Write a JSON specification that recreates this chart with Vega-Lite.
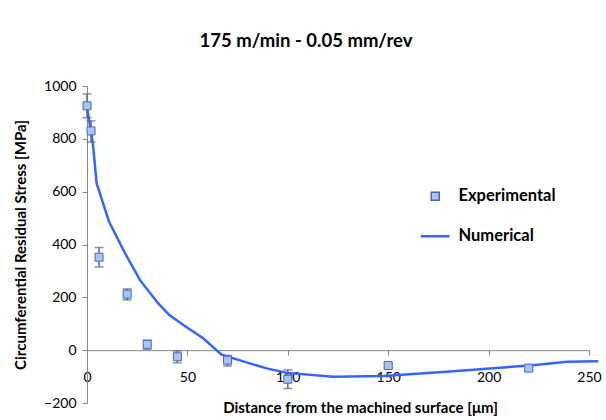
{
  "$schema": "https://vega.github.io/schema/vega-lite/v6.json",
  "width": 502,
  "height": 317,
  "autosize": {"type": "none"},
  "padding": {"left": 87, "top": 86, "right": 17, "bottom": 17},
  "background": "white",
  "title": {
    "text": "175 m/min - 0.05 mm/rev",
    "font": "Lato",
    "fontSize": 18.5,
    "fontWeight": "bold",
    "color": "#000000",
    "anchor": "middle",
    "frame": "group",
    "offset": 29,
    "dx": -32
  },
  "config": {
    "view": {"stroke": null},
    "font": "Lato",
    "axis": {
      "grid": false,
      "domainColor": "#888888",
      "tickColor": "#888888",
      "tickSize": 5,
      "labelFont": "Lato",
      "labelFontSize": 14,
      "labelColor": "#000000",
      "labelFlush": false,
      "titleFont": "Lato",
      "titleFontSize": 15,
      "titleFontWeight": "bold",
      "titleColor": "#000000"
    }
  },
  "datasets": {
    "numerical": [
      {"x": 0, "y": 918},
      {"x": 1, "y": 872},
      {"x": 2, "y": 830},
      {"x": 3, "y": 775},
      {"x": 4.8, "y": 631},
      {"x": 11, "y": 486},
      {"x": 19, "y": 366},
      {"x": 26.4, "y": 265},
      {"x": 35.5, "y": 177},
      {"x": 41, "y": 133},
      {"x": 48, "y": 95},
      {"x": 58, "y": 44},
      {"x": 67, "y": -17},
      {"x": 81, "y": -50},
      {"x": 89.5, "y": -69},
      {"x": 99.5, "y": -86},
      {"x": 122.7, "y": -101},
      {"x": 147.6, "y": -98},
      {"x": 179, "y": -82},
      {"x": 200.7, "y": -69},
      {"x": 222, "y": -57},
      {"x": 239, "y": -44},
      {"x": 254.6, "y": -42}
    ],
    "experimental": [
      {"x": 0, "y": 925, "lo": 880, "hi": 970, "series": "Experimental"},
      {"x": 2, "y": 830, "lo": 788, "hi": 868, "series": "Experimental"},
      {"x": 6, "y": 352, "lo": 315, "hi": 389, "series": "Experimental"},
      {"x": 20, "y": 212, "lo": 190, "hi": 232, "series": "Experimental"},
      {"x": 30, "y": 22, "lo": 3, "hi": 38, "series": "Experimental"},
      {"x": 45, "y": -25, "lo": -48, "hi": -3, "series": "Experimental"},
      {"x": 70, "y": -38, "lo": -60, "hi": -20, "series": "Experimental"},
      {"x": 100, "y": -110, "lo": -145, "hi": -75, "series": "Experimental"},
      {"x": 150, "y": -58, "lo": -66, "hi": -50, "series": "Experimental"},
      {"x": 220, "y": -68, "lo": -76, "hi": -60, "series": "Experimental"}
    ]
  },
  "layer": [
    {
      "data": {"name": "numerical"},
      "mark": {"type": "line", "color": "#3366ff", "strokeWidth": 2.5, "clip": false},
      "encoding": {
        "x": {
          "field": "x",
          "type": "quantitative",
          "title": "Distance from the machined surface [μm]",
          "scale": {"domain": [0, 250], "nice": false, "zero": false},
          "axis": {
            "values": [0, 50, 100, 150, 200, 250],
            "offset": -52.83,
            "labelPadding": 15,
            "titlePadding": 16,
            "titleX": 273
          }
        },
        "y": {
          "field": "y",
          "type": "quantitative",
          "title": "Circumferential Residual Stress [MPa]",
          "scale": {"domain": [-200, 1000], "nice": false, "zero": false},
          "axis": {
            "values": [-200, 0, 200, 400, 600, 800, 1000],
            "format": "d",
            "labelPadding": 6,
            "titlePadding": 15
          }
        }
      }
    },
    {
      "data": {"name": "experimental"},
      "mark": {"type": "errorbar", "ticks": {"size": 9, "thickness": 1.5}, "color": "#5b61a6", "thickness": 1.5},
      "encoding": {
        "x": {"field": "x", "type": "quantitative", "title": "Distance from the machined surface [μm]"},
        "y": {"field": "lo", "type": "quantitative", "title": "Circumferential Residual Stress [MPa]"},
        "y2": {"field": "hi"}
      }
    },
    {
      "data": {"name": "experimental"},
      "mark": {"type": "point", "filled": true, "size": 64, "strokeWidth": 1, "opacity": 1},
      "encoding": {
        "x": {"field": "x", "type": "quantitative", "title": "Distance from the machined surface [μm]"},
        "y": {"field": "y", "type": "quantitative", "title": "Circumferential Residual Stress [MPa]"},
        "color": {
          "field": "series",
          "type": "nominal",
          "scale": {"domain": ["Experimental", "Numerical"], "range": ["#a0c8f5", "#3366ff"]},
          "legend": {
            "orient": "none",
            "legendX": 340,
            "legendY": 102,
            "title": null,
            "padding": 0,
            "labelFont": "Lato",
            "labelFontSize": 16.5,
            "labelFontWeight": "bold",
            "labelColor": "#000000",
            "rowPadding": 23,
            "labelOffset": 15,
            "symbolSize": 64,
            "symbolOpacity": 1
          }
        },
        "stroke": {
          "field": "series",
          "type": "nominal",
          "scale": {"domain": ["Experimental", "Numerical"], "range": ["#5b61a6", "#3366ff"]},
          "legend": {
            "orient": "none",
            "legendX": 340,
            "legendY": 102,
            "title": null,
            "padding": 0,
            "labelFont": "Lato",
            "labelFontSize": 16.5,
            "labelFontWeight": "bold",
            "labelColor": "#000000",
            "rowPadding": 23,
            "labelOffset": 15,
            "symbolSize": 64,
            "symbolOpacity": 1
          }
        },
        "shape": {
          "field": "series",
          "type": "nominal",
          "scale": {"domain": ["Experimental", "Numerical"], "range": ["square", "M-3.4,-0.12H3.4V0.12H-3.4Z"]},
          "legend": {
            "orient": "none",
            "legendX": 340,
            "legendY": 102,
            "title": null,
            "padding": 0,
            "labelFont": "Lato",
            "labelFontSize": 16.5,
            "labelFontWeight": "bold",
            "labelColor": "#000000",
            "rowPadding": 23,
            "labelOffset": 15,
            "symbolSize": 64,
            "symbolOpacity": 1
          }
        }
      }
    }
  ]
}
